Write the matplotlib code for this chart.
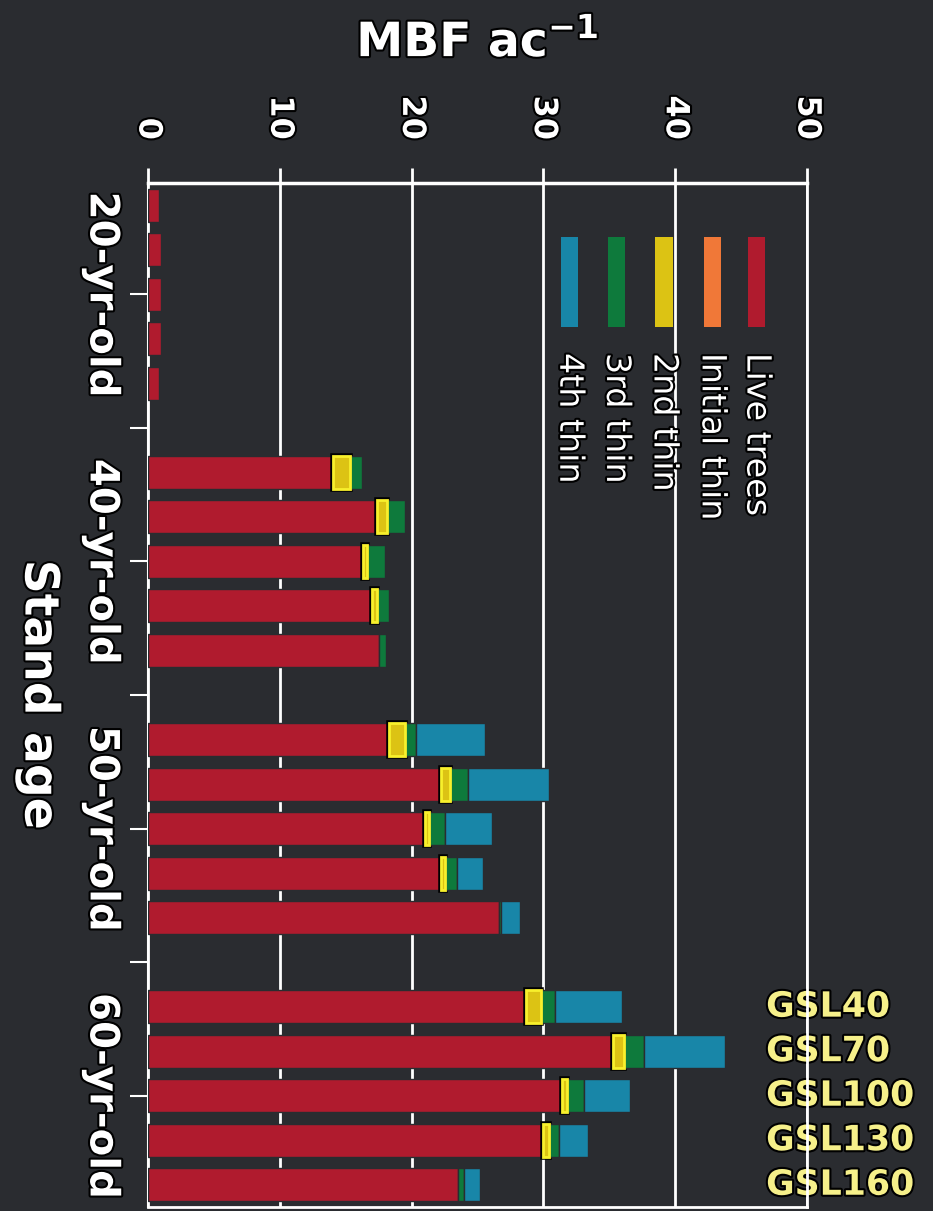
import numpy as np
import matplotlib
matplotlib.use("Agg")
import matplotlib.pyplot as plt
import matplotlib.patheffects as pe
from matplotlib.patches import Rectangle

# stand ages and growing stock levels
ages = ["20-yr-old", "40-yr-old", "50-yr-old", "60-yr-old"]
gsl = ["GSL40", "GSL70", "GSL100", "GSL130", "GSL160"]

# MBF per acre, 5 GSL bars per age (GSL40 .. GSL160)
live = [0.8, 1.0, 1.0, 1.0, 0.8,
        14.0, 17.4, 16.3, 17.0, 17.5,
        18.3, 22.2, 21.0, 22.2, 26.6,
        28.65, 35.3, 31.4, 30.0, 23.55]
initial_thin = [0.0] * 20
second_thin = [0, 0, 0, 0, 0,
               1.3, 0.7, 0.35, 0.4, 0,
               1.2, 0.7, 0.3, 0.35, 0,
               1.2, 0.8, 0.4, 0.4, 0]
third_thin = [0, 0, 0, 0, 0,
              0.95, 1.4, 1.3, 0.9, 0.55,
              0.8, 1.4, 1.25, 0.9, 0.15,
              1.05, 1.5, 1.3, 0.8, 0.45]
fourth_thin = [0, 0, 0, 0, 0,
               0, 0, 0, 0, 0,
               5.3, 6.1, 3.55, 1.95, 1.5,
               5.1, 6.2, 3.5, 2.2, 1.2]

series_names = ["Live trees", "Initial thin", "2nd thin", "3rd thin", "4th thin"]
series_vals = [live, initial_thin, second_thin, third_thin, fourth_thin]
colors = ["#b01b2e", "#f07838", "#dcc314", "#0e7a3c", "#1886a8"]

bg = "#2a2c30"
outline = [pe.withStroke(linewidth=3, foreground="black")]

fig = plt.figure(figsize=(9.33, 12.11), dpi=100, facecolor=bg)
ax = fig.add_axes([148 / 933, 4 / 1211, (807 - 148) / 933, (1207 - 183) / 1211])
ax.set_facecolor(bg)

# bar positions: 5 bars per group, one empty slot between groups
ypos = np.array([6 * g + j for g in range(len(ages)) for j in range(len(gsl))])
bar_h = 0.74

left = np.zeros(len(ypos))
for name, vals, c in zip(series_names, series_vals, colors):
    vals = np.array(vals, dtype=float)
    m = vals > 0
    if name == "2nd thin":
        ax.barh(ypos[m], vals[m], left=left[m], height=bar_h, color=c,
                edgecolor="black", linewidth=4, zorder=3)
        ax.barh(ypos[m], vals[m], left=left[m], height=bar_h, color=c,
                edgecolor="#f8f02c", linewidth=2, zorder=3.1)
    else:
        ax.barh(ypos[m], vals[m], left=left[m], height=bar_h, color=c,
                edgecolor=bg, linewidth=1, zorder=3)
    left += vals

ax.set_xlim(0, 50)
ax.set_ylim(22.5, -0.5)

ax.set_axisbelow(True)
ax.xaxis.grid(True, color="white", linewidth=2)
ax.yaxis.grid(False)

ax.xaxis.tick_top()
ax.xaxis.set_label_position("top")
ax.set_xticks([0, 10, 20, 30, 40, 50])
ax.tick_params(axis="x", colors="white", length=11, width=2, pad=20,
               labelsize=23, labelrotation=270)
for t in ax.get_xticklabels():
    t.set_fontweight("bold")
    t.set_path_effects(outline)
ax.set_xlabel("MBF ac$^{\\mathbf{-1}}$", color="white", fontsize=34,
              fontweight="bold", labelpad=28, path_effects=outline)

centers = [6 * g + 2 for g in range(len(ages))]
ax.set_yticks(centers)
ax.set_yticklabels(ages)
ax.set_yticks([6 * g + 5 for g in range(len(ages) - 1)], minor=True)
ax.tick_params(axis="y", which="both", colors="white", length=13, width=1.5,
               pad=6, labelsize=29)
for t in ax.get_yticklabels():
    t.set_fontweight("bold")
    t.set_rotation(270)
    t.set_va("center")
    t.set_path_effects(outline)
ax.set_ylabel("Stand age", color="white", fontsize=34, fontweight="bold",
              rotation=270, ha="center", va="center", path_effects=outline)
ax.yaxis.set_label_coords(-0.167, 0.5)

for side, lw in [("top", 2.5), ("left", 1.5), ("bottom", 2), ("right", 2)]:
    ax.spines[side].set_color("white")
    ax.spines[side].set_linewidth(lw)

# rotated legend drawn by hand
col_x = [0.924, 0.856, 0.783, 0.711, 0.640]
for name, c, cx in zip(series_names, colors, col_x):
    ax.add_patch(Rectangle((cx - 0.013, 0.859), 0.026, 0.088, transform=ax.transAxes,
                           facecolor=c, edgecolor="none", zorder=4))
    ax.text(cx, 0.834, name, transform=ax.transAxes, rotation=270, ha="center",
            va="top", color="white", fontsize=24, zorder=4, path_effects=outline)

# GSL labels beside the 60-yr-old bars
for j, lab in enumerate(gsl):
    ax.text(46.9, ypos[15 + j], lab, ha="left", va="center", color="#f6f08a",
            fontsize=25, fontweight="bold", clip_on=False, zorder=1,
            path_effects=outline)

fig.savefig("out.png", dpi=100, facecolor=bg)
